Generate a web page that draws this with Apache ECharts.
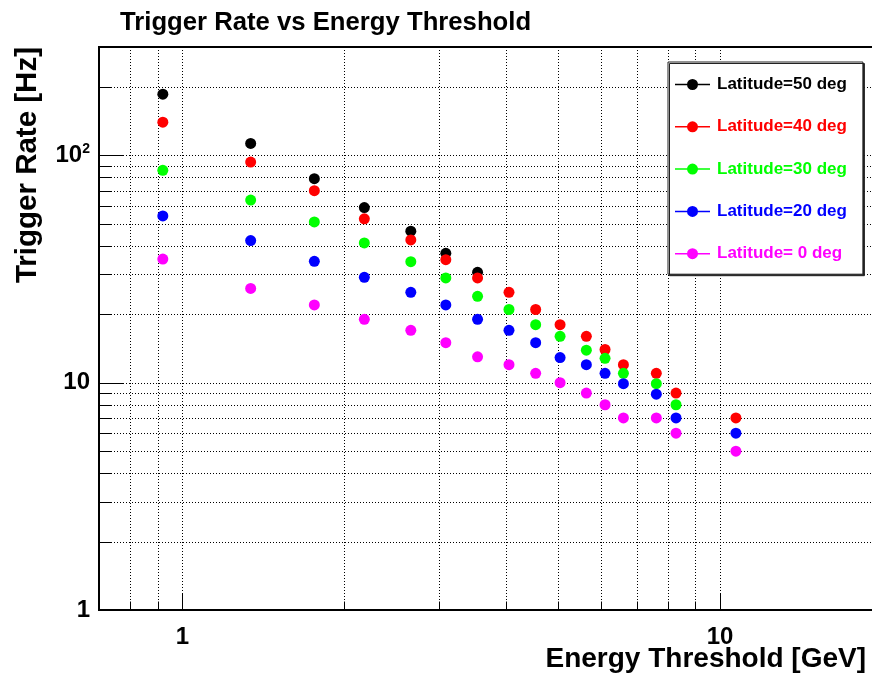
<!DOCTYPE html>
<html>
<head>
<meta charset="utf-8">
<script src="https://cdn.jsdelivr.net/npm/echarts@6/dist/echarts.min.js"></script>
<style>
html,body{margin:0;padding:0;background:#fff;}
#chart{width:872px;height:674px;}
</style>
</head>
<body>
<div id="chart"></div>
<script>
// ---- data ----
const energy = [0.92, 1.34, 1.76, 2.18, 2.66, 3.09, 3.54, 4.05, 4.54, 5.04, 5.64, 6.11, 6.61, 7.61, 8.28, 10.7];
const lat50 = [186, 113, 79, 59, 46.4, 37.1, 30.6, null, null, null, null, null, null, null, null, null];
const lat40 = [140, 93.5, 70, 52.6, 42.5, 34.8, 28.9, 25, 21, 18, 16, 14, 12, 11, 9, 7];
const lat30 = [86, 63.6, 51, 41.2, 34.1, 28.9, 24, 21, 18, 16, 13.9, 12.8, 11, 9.9, 8, null];
const lat20 = [54.2, 42.2, 34.2, 29.1, 25, 22, 19, 17, 15, 12.9, 12, 11, 9.9, 8.9, 7, 6];
const lat0 = [35, 26, 22, 19, 17, 15, 13, 12, 11, 10, 9, 8, 7, 7, 6, 5];
const seriesNames = ['Latitude=50 deg', 'Latitude=40 deg', 'Latitude=30 deg', 'Latitude=20 deg', 'Latitude= 0 deg'];
const seriesColors = ['#000000', '#ff0000', '#00ff00', '#0000ff', '#ff00ff'];
const xMin = 0.7, xMax = 20, yMin = 1, yMax = 300;
const xGridValues = [0.8, 0.9, 1, 2, 3, 4, 5, 6, 7, 8, 9, 10];
const xMajorTicks = [1, 10];
const yGridValues = [2, 3, 4, 5, 6, 7, 8, 9, 10, 20, 30, 40, 50, 60, 70, 80, 90, 100, 200];
const yMajorTicks = [10, 100];

const FONT = "'Liberation Sans', Arial, Helvetica, sans-serif";
const allSeries = [lat50, lat40, lat30, lat20, lat0];

function pairs(ys) {
  const out = [];
  ys.forEach((y, i) => { if (y != null) out.push([energy[i], y]); });
  return out;
}
function isDecade(v) {
  const l = Math.log10(v);
  return Math.abs(l - Math.round(l)) < 1e-6;
}

const chart = echarts.init(document.getElementById('chart'), null, {renderer: 'canvas'});

const iconPath = 'path://M0,4.75H35V6.25H0Z M12,5.5A5.5,5.5,0,1,1,23,5.5A5.5,5.5,0,1,1,12,5.5Z';

const scatterSeries = seriesNames.map((name, i) => ({
  name: name,
  type: 'scatter',
  data: pairs(allSeries[i]),
  symbol: 'circle',
  symbolSize: 11,
  itemStyle: {color: seriesColors[i], opacity: 1},
  z: 5,
  emphasis: {disabled: true}
}));

const gridStyle = {stroke: '#000', lineWidth: 1, lineDash: [1, 2]};

const xGridSeries = {
  type: 'custom',
  silent: true,
  z: 1,
  data: xGridValues.map(v => [v, yMin]),
  renderItem: function (params, api) {
    const cs = params.coordSys;
    const v = api.value(0);
    const p = api.coord([v, yMin]);
    const x = Math.round(p[0]) + 0.5;
    const major = xMajorTicks.indexOf(v) >= 0;
    const tl = major ? 17 : 8.5;
    const bottom = cs.y + cs.height;
    return {
      type: 'group',
      children: [
        {type: 'line', shape: {x1: x, y1: cs.y, x2: x, y2: bottom}, style: gridStyle},
        {type: 'line', shape: {x1: x, y1: bottom, x2: x, y2: bottom - tl}, style: {stroke: '#000', lineWidth: 1}}
      ]
    };
  }
};

const yGridSeries = {
  type: 'custom',
  silent: true,
  z: 1,
  data: yGridValues.map(v => [xMin, v]),
  renderItem: function (params, api) {
    const cs = params.coordSys;
    const v = api.value(1);
    const p = api.coord([xMin, v]);
    const y = Math.round(p[1]) + 0.5;
    const major = yMajorTicks.indexOf(v) >= 0;
    const tl = major ? 24 : 12;
    return {
      type: 'group',
      children: [
        {type: 'line', shape: {x1: cs.x, y1: y, x2: cs.x + cs.width, y2: y}, style: gridStyle},
        {type: 'line', shape: {x1: cs.x, y1: y, x2: cs.x + tl, y2: y}, style: {stroke: '#000', lineWidth: 1}}
      ]
    };
  }
};

const option = {
  backgroundColor: '#ffffff',
  animation: false,
  title: {
    text: 'Trigger Rate vs Energy Threshold',
    left: 120,
    top: 10,
    padding: 0,
    textStyle: {fontFamily: FONT, fontWeight: 'bold', fontSize: 25.7, color: '#000'}
  },
  legend: {
    orient: 'vertical',
    left: 668,
    top: 62,
    padding: [14, 16, 12, 7],
    itemWidth: 35,
    itemHeight: 11,
    itemGap: 25.3,
    backgroundColor: '#ffffff',
    borderColor: '#222',
    borderWidth: 1,
    shadowColor: '#222',
    shadowOffsetX: 1.5,
    shadowOffsetY: 1.5,
    shadowBlur: 0,
    selectedMode: false,
    icon: iconPath,
    data: seriesNames.map((n, i) => ({name: n, textStyle: {color: seriesColors[i]}})),
    textStyle: {fontFamily: FONT, fontWeight: 'bold', fontSize: 17, padding: [0, 0, 0, 2]}
  },
  grid: {
    left: 99,
    top: 47,
    right: -10,
    bottom: 64,
    show: true,
    borderColor: '#000',
    borderWidth: 2,
    backgroundColor: 'transparent',
    outerBoundsMode: 'none',
    containLabel: false
  },
  xAxis: {
    type: 'log',
    logBase: 10,
    min: xMin,
    max: xMax,
    axisLine: {show: false},
    axisTick: {show: false},
    splitLine: {show: false},
    axisLabel: {
      margin: 15,
      fontFamily: FONT,
      fontWeight: 'bold',
      fontSize: 24,
      color: '#000',
      formatter: function (v) { return isDecade(v) ? String(Math.round(v)) : ''; }
    }
  },
  yAxis: {
    type: 'log',
    logBase: 10,
    min: yMin,
    max: yMax,
    axisLine: {show: false},
    axisTick: {show: false},
    splitLine: {show: false},
    axisLabel: {
      margin: 9,
      color: '#000',
      fontFamily: FONT,
      fontWeight: 'bold',
      fontSize: 24,
      formatter: function (v) {
        if (!isDecade(v)) return '';
        const e = Math.round(Math.log10(v));
        if (e <= 1) return '{b|' + Math.round(v) + '}';
        return '{b|10}{s|' + e + '}';
      },
      rich: {
        b: {fontFamily: FONT, fontWeight: 'bold', fontSize: 24, color: '#000', lineHeight: 26},
        s: {fontFamily: FONT, fontWeight: 'bold', fontSize: 14, color: '#000', verticalAlign: 'top', lineHeight: 14}
      }
    }
  },
  graphic: [
    {
      type: 'text',
      x: 866,
      y: 673,
      style: {
        text: 'Energy Threshold [GeV]',
        font: 'bold 28px ' + FONT,
        fill: '#000',
        textAlign: 'right',
        textVerticalAlign: 'bottom'
      }
    },
    {
      type: 'text',
      x: 28,
      y: 47,
      rotation: Math.PI / 2,
      style: {
        text: 'Trigger Rate [Hz]',
        font: 'bold 29.5px ' + FONT,
        fill: '#000',
        textAlign: 'right',
        textVerticalAlign: 'middle'
      }
    }
  ],
  series: [xGridSeries, yGridSeries].concat(scatterSeries)
};

chart.setOption(option);
</script>
</body>
</html>
